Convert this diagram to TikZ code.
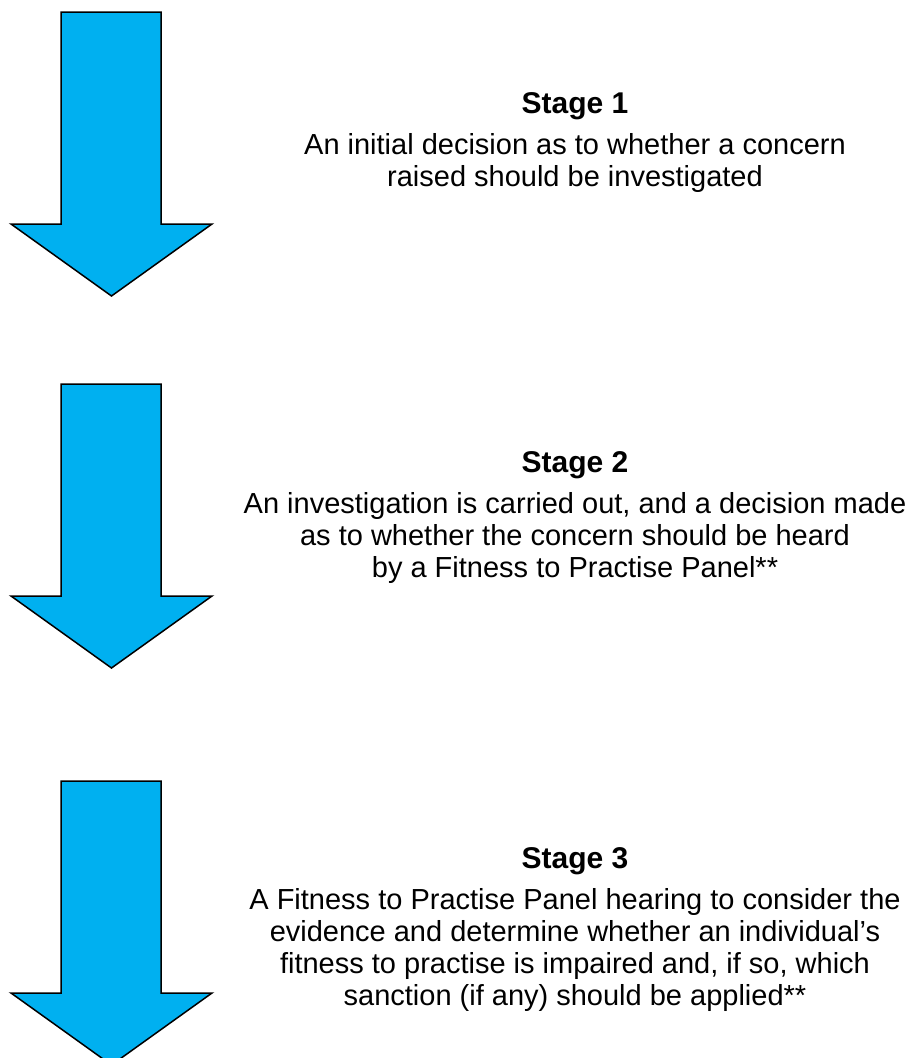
\documentclass[tikz,border=0pt]{standalone}
\usepackage{fontspec}
\setmainfont{Liberation Sans}
\usetikzlibrary{positioning}
\definecolor{arrowblue}{HTML}{00B0F0}
\tikzset{
	stage arrow/.style={draw=black, line width=1.5pt, fill=arrowblue, line join=miter},
	stage title/.style={font=\fontsize{30}{34}\selectfont\bfseries, inner sep=0pt, anchor=base},
	stage text/.style={font=\fontsize{29}{32}\selectfont, align=center, inner sep=0pt}
}

\begin{document}
\begin{tikzpicture}[x=1pt,y=-1pt,node distance=14pt]
            \useasboundingbox (0,0) rectangle (912,1058);
            % the three down arrows
            \foreach \t in {12,384,781} {
                \draw[stage arrow] (61,\t) -- (161,\t) -- (161,\t+212) -- (212,\t+212)
                    -- (111.5,\t+284) -- (11,\t+212) -- (61,\t+212) -- cycle;
            }
            \node[stage title] (s1) at (575,113) {Stage 1};
            \node[stage text] (d1) [below=of s1] {An initial decision as to whether a concern\\raised should be investigated};
            \node[stage title] (s2) at (575,472) {Stage 2};
            \node[stage text] (d2) [below=of s2] {An investigation is carried out, and a decision made\\as to whether the concern should be heard\\by a Fitness to Practise Panel**};
            \node[stage title] (s3) at (575,868) {Stage 3};
            \node[stage text] (d3) [below=of s3] {A Fitness to Practise Panel hearing to consider the\\evidence and determine whether an individual’s\\fitness to practise is impaired and, if so, which\\sanction (if any) should be applied**};
        \end{tikzpicture}
\end{document}
